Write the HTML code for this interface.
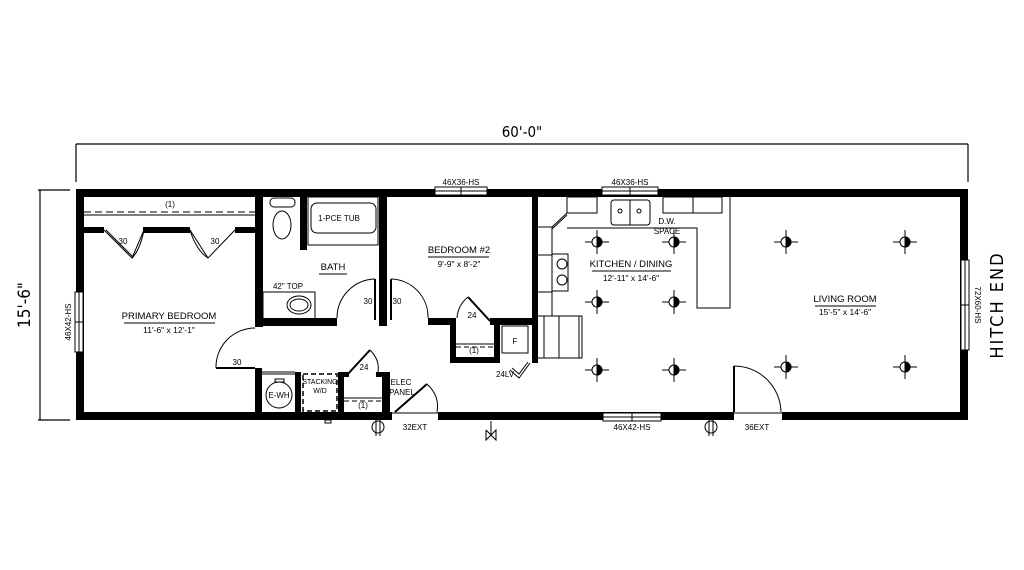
<!DOCTYPE html>
<html><head><meta charset="utf-8"><style>
html,body{margin:0;padding:0;background:#fff}
svg{display:block}
text{font-family:"Liberation Sans",sans-serif;fill:#000}
.n{font-family:"DejaVu Sans Condensed","Liberation Sans Narrow","Liberation Sans",sans-serif}
</style></head><body>
<svg width="1024" height="570" viewBox="0 0 1024 570" xmlns="http://www.w3.org/2000/svg">
<rect width="1024" height="570" fill="#fff"/>
<!-- dimension lines -->
<g stroke="#000" stroke-width="1.2" fill="none">
<line x1="76" y1="144" x2="968" y2="144"/>
<line x1="76" y1="144" x2="76" y2="182"/>
<line x1="968" y1="144" x2="968" y2="182"/>
<line x1="40" y1="190" x2="40" y2="420"/>
<line x1="38" y1="190" x2="70" y2="190"/>
<line x1="38" y1="420" x2="70" y2="420"/>
</g>
<text x="522" y="137" font-size="15" text-anchor="middle" class="n">60'-0"</text>
<text transform="translate(30,305) rotate(-90)" font-size="17" text-anchor="middle" class="n">15'-6"</text>
<text transform="translate(1003,305) rotate(-90)" font-size="18" text-anchor="middle" class="n" letter-spacing="2">HITCH END</text>

<!-- outer walls -->
<g fill="#000">
<rect x="76" y="189" width="892" height="8"/>
<rect x="76" y="412" width="892" height="8"/>
<rect x="76" y="189" width="8" height="231"/>
<rect x="960" y="189" width="8" height="231"/>
<!-- closet wall -->
<rect x="84" y="227" width="20" height="6"/>
<rect x="143" y="227" width="47" height="6"/>
<rect x="235" y="227" width="20" height="6"/>
<!-- bedroom/bath wall -->
<rect x="255" y="197" width="8" height="130"/>
<rect x="255" y="368" width="7" height="45"/>
<rect x="255" y="318" width="82" height="8"/>
<rect x="300" y="197" width="7" height="53"/>
<rect x="379" y="197" width="8" height="129"/>
<rect x="428" y="318" width="22" height="7"/>
<rect x="490" y="318" width="45" height="7"/>
<rect x="450" y="318" width="6" height="45"/>
<rect x="450" y="357" width="50" height="6"/>
<rect x="494" y="318" width="6" height="45"/>
<rect x="532" y="197" width="6" height="166"/>
<!-- utility walls -->
<rect x="295" y="372" width="6" height="41"/>
<rect x="338" y="372" width="6" height="41"/>
<rect x="382" y="372" width="8" height="41"/>
<rect x="344" y="372" width="5" height="5"/>
<rect x="376" y="372" width="6" height="5"/>
</g>
<!-- door gaps in outer walls -->
<rect x="392" y="411" width="46" height="10" fill="#fff"/>
<line x1="392" y1="413" x2="438" y2="413" stroke="#000"/>
<rect x="734" y="411" width="48" height="10" fill="#fff"/>
<line x1="734" y1="413" x2="782" y2="413" stroke="#000"/>

<!-- windows -->
<g fill="#fff" stroke="#000" stroke-width="1">
<rect x="435" y="187" width="52" height="8"/><line x1="435" y1="191" x2="487" y2="191"/><line x1="461" y1="187" x2="461" y2="195"/>
<rect x="602" y="187" width="56" height="8"/><line x1="602" y1="191" x2="658" y2="191"/><line x1="630" y1="187" x2="630" y2="195"/>
<rect x="603" y="413" width="58" height="8"/><line x1="603" y1="417" x2="661" y2="417"/><line x1="632" y1="413" x2="632" y2="421"/>
<rect x="75" y="292" width="8" height="60"/><line x1="79" y1="292" x2="79" y2="352"/><line x1="75" y1="322" x2="83" y2="322"/>
<rect x="961" y="260" width="8" height="90"/><line x1="965" y1="260" x2="965" y2="350"/><line x1="961" y1="305" x2="969" y2="305"/>
</g>
<g font-size="8" class="n">
<text x="461" y="185" text-anchor="middle">46X36-HS</text>
<text x="630" y="185" text-anchor="middle">46X36-HS</text>
<text x="632" y="430" text-anchor="middle">46X42-HS</text>
<text transform="translate(71,322) rotate(-90)" text-anchor="middle">46X42-HS</text>
<text transform="translate(975,305) rotate(90)" text-anchor="middle">72X60-HS</text>
</g>

<!-- fine lines -->
<g fill="none" stroke="#000" stroke-width="1">
<line x1="84" y1="212" x2="255" y2="212" stroke-dasharray="7,4"/>
<line x1="84" y1="215" x2="255" y2="215"/>
<!-- bifold doors -->
<polyline points="104,230 132,258 144,230"/><polyline points="106,230 133,257"/>
<path d="M144,230 Q140,250 132,258"/>
<polyline points="235,230 208,258 190,230"/>
<path d="M190,230 Q196,250 208,258"/>
<!-- toilet -->
<rect x="270" y="198" width="25" height="9" rx="4"/>
<ellipse cx="282" cy="225" rx="9" ry="14"/>
<!-- tub -->
<rect x="308" y="197" width="70" height="48"/>
<rect x="311" y="203" width="65" height="30" rx="6"/>
<!-- sink -->
<rect x="263" y="292" width="52" height="27"/>
<ellipse cx="299" cy="305" rx="12" ry="9"/>
<ellipse cx="299" cy="305" rx="9" ry="6"/>
<!-- bath door -->
<line x1="375" y1="279" x2="375" y2="320" stroke-width="2"/>
<path d="M375,279 A39,39 0 0 0 337,318"/>
<line x1="391" y1="279" x2="391" y2="320" stroke-width="2"/>
<path d="M391,279 A38,38 0 0 1 428,318"/>
<!-- primary door -->
<line x1="216" y1="368" x2="255" y2="368" stroke-width="2"/>
<path d="M216,368 A39,39 0 0 1 255,328"/>
<!-- closet 24 bedroom2 -->
<line x1="468" y1="297" x2="490" y2="321" stroke-width="2"/>
<path d="M468,297 Q458,305 457,318"/>
<line x1="456" y1="344" x2="494" y2="344"/>
<line x1="456" y1="347" x2="494" y2="347" stroke-dasharray="5,3"/>
<rect x="502" y="326" width="26" height="27"/>
<polyline points="510,370 519,378 530,363"/><polyline points="512,368 519,374 528,362"/>
<!-- utility -->
<line x1="262" y1="372" x2="295" y2="372"/><line x1="262" y1="374" x2="295" y2="374"/>
<circle cx="279" cy="395" r="13"/>
<rect x="275" y="379" width="9" height="3"/>
<rect x="303" y="374" width="34" height="37" stroke-dasharray="5,3" stroke-width="1.5"/>
<line x1="344" y1="398" x2="382" y2="398"/>
<line x1="344" y1="401" x2="382" y2="401" stroke-dasharray="5,3"/>
<line x1="347" y1="375" x2="370" y2="350" stroke-width="2"/>
<path d="M370,350 Q380,360 378,372"/>
<!-- 32EXT door -->
<line x1="395" y1="412" x2="427" y2="384" stroke-width="2"/>
<path d="M427,384 Q440,396 437,412"/>
<!-- 36EXT door -->
<line x1="734" y1="366" x2="734" y2="412" stroke-width="2"/>
<path d="M734,366 A47,47 0 0 1 781,412"/>
<!-- kitchen -->
<rect x="567" y="197" width="30" height="16"/>
<line x1="567" y1="213" x2="552" y2="227"/><line x1="567" y1="215" x2="552" y2="229"/>
<rect x="537" y="227" width="15" height="89"/>
<line x1="537" y1="255" x2="552" y2="255"/><line x1="537" y1="292" x2="552" y2="292"/>
<rect x="552" y="254" width="16" height="37"/>
<circle cx="562" cy="264" r="5"/><circle cx="562" cy="280" r="5"/>
<rect x="611" y="200" width="39" height="25" rx="3"/>
<line x1="630" y1="200" x2="630" y2="225"/>
<circle cx="620" cy="211" r="2"/><circle cx="639" cy="211" r="2"/>
<rect x="663" y="197" width="30" height="16"/><rect x="693" y="197" width="29" height="16"/>
<polyline points="567,228 697,228 697,308 730,308 730,197"/>
<rect x="537" y="316" width="45" height="42"/>
<line x1="544" y1="316" x2="544" y2="358"/><line x1="559" y1="316" x2="559" y2="358"/><line x1="579" y1="316" x2="579" y2="358"/>
<!-- exterior symbols -->
<circle cx="378" cy="427" r="6"/><line x1="376" y1="420" x2="376" y2="436"/><line x1="380" y1="420" x2="380" y2="436"/>
<circle cx="711" cy="427" r="6"/><line x1="709" y1="420" x2="709" y2="436"/><line x1="713" y1="420" x2="713" y2="436"/>
<polyline points="486,430 496,440 496,430 486,440 486,430"/><line x1="491" y1="421" x2="491" y2="435"/>
<rect x="325" y="420" width="6" height="3"/>
</g>
<!-- light fixtures -->
<g id="lights" stroke="#000" stroke-width="1">
<g transform="translate(597,242)"><line x1="-12" x2="12"/><line y1="-12" y2="12"/><circle r="5" fill="#fff"/><path d="M0,-5 A5,5 0 0 1 0,5 Z" fill="#000"/></g>
<g transform="translate(674,242)"><line x1="-12" x2="12"/><line y1="-12" y2="12"/><circle r="5" fill="#fff"/><path d="M0,-5 A5,5 0 0 1 0,5 Z" fill="#000"/></g>
<g transform="translate(786,242)"><line x1="-12" x2="12"/><line y1="-12" y2="12"/><circle r="5" fill="#fff"/><path d="M0,-5 A5,5 0 0 1 0,5 Z" fill="#000"/></g>
<g transform="translate(905,242)"><line x1="-12" x2="12"/><line y1="-12" y2="12"/><circle r="5" fill="#fff"/><path d="M0,-5 A5,5 0 0 1 0,5 Z" fill="#000"/></g>
<g transform="translate(597,302)"><line x1="-12" x2="12"/><line y1="-12" y2="12"/><circle r="5" fill="#fff"/><path d="M0,-5 A5,5 0 0 1 0,5 Z" fill="#000"/></g>
<g transform="translate(674,302)"><line x1="-12" x2="12"/><line y1="-12" y2="12"/><circle r="5" fill="#fff"/><path d="M0,-5 A5,5 0 0 1 0,5 Z" fill="#000"/></g>
<g transform="translate(597,370)"><line x1="-12" x2="12"/><line y1="-12" y2="12"/><circle r="5" fill="#fff"/><path d="M0,-5 A5,5 0 0 1 0,5 Z" fill="#000"/></g>
<g transform="translate(674,370)"><line x1="-12" x2="12"/><line y1="-12" y2="12"/><circle r="5" fill="#fff"/><path d="M0,-5 A5,5 0 0 1 0,5 Z" fill="#000"/></g>
<g transform="translate(786,367)"><line x1="-12" x2="12"/><line y1="-12" y2="12"/><circle r="5" fill="#fff"/><path d="M0,-5 A5,5 0 0 1 0,5 Z" fill="#000"/></g>
<g transform="translate(905,367)"><line x1="-12" x2="12"/><line y1="-12" y2="12"/><circle r="5" fill="#fff"/><path d="M0,-5 A5,5 0 0 1 0,5 Z" fill="#000"/></g>
</g>
<!-- labels -->
<g font-size="9.5" text-anchor="middle">
<text x="169" y="319">PRIMARY BEDROOM</text>
<line x1="124" y1="323" x2="215" y2="323" stroke="#000"/>
<text x="169" y="333" font-size="8.5">11'-6" x 12'-1"</text>
<text x="459" y="253">BEDROOM #2</text>
<line x1="428" y1="257" x2="489" y2="257" stroke="#000"/>
<text x="459" y="267" font-size="8.5">9'-9" x 8'-2"</text>
<text x="631" y="267">KITCHEN / DINING</text>
<line x1="592" y1="271" x2="671" y2="271" stroke="#000"/>
<text x="631" y="281" font-size="8.5">12'-11" x 14'-6"</text>
<text x="845" y="302">LIVING ROOM</text>
<line x1="815" y1="306" x2="876" y2="306" stroke="#000"/>
<text x="845" y="315" font-size="8.5">15'-5" x 14'-6"</text>
<text x="333" y="270">BATH</text>
<line x1="319" y1="274" x2="347" y2="274" stroke="#000"/>
</g>
<g font-size="8" class="n" text-anchor="middle">
<text x="170" y="207">(1)</text>
<text x="123" y="244">30</text><text x="215" y="244">30</text>
<text x="339" y="221">1-PCE TUB</text>
<text x="288" y="289">42" TOP</text>
<text x="368" y="304">30</text><text x="397" y="304">30</text>
<text x="237" y="365">30</text>
<text x="472" y="318">24</text>
<text x="474" y="353">(1)</text>
<text x="515" y="344">F</text>
<text x="505" y="377">24LV</text>
<text x="279" y="398">E-WH</text>
<text x="320" y="384" font-size="7">STACKING</text>
<text x="320" y="393" font-size="7">W/D</text>
<text x="364" y="370">24</text>
<text x="363" y="408">(1)</text>
<text x="401" y="385">ELEC</text>
<text x="402" y="395">PANEL</text>
<text x="415" y="430">32EXT</text>
<text x="757" y="430">36EXT</text>
<text x="667" y="224">D.W.</text>
<text x="667" y="234">SPACE</text>
</g>
</svg>
</body></html>
